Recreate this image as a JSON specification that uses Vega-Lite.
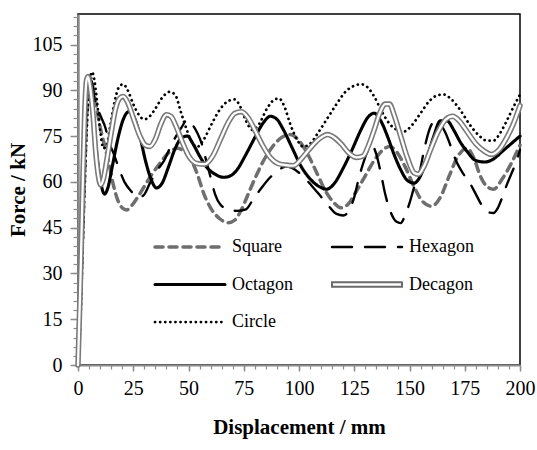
{
  "$schema": "https://vega.github.io/schema/vega-lite/v6.json",
  "width": 442,
  "height": 351,
  "autosize": {"type": "none"},
  "padding": {"left": 78, "top": 14, "right": 17, "bottom": 85},
  "background": "white",
  "config": {"view": {"stroke": "black", "strokeWidth": 1.5}, "font": "Liberation Serif"},
  "datasets": {
    "pts": [
      {"s":"Square","d":0,"f":0},{"s":"Square","d":1,"f":18},{"s":"Square","d":2,"f":40},{"s":"Square","d":3,"f":62},{"s":"Square","d":4,"f":82},{"s":"Square","d":5,"f":92},{"s":"Square","d":5.8,"f":94},{"s":"Square","d":7,"f":90},{"s":"Square","d":8.5,"f":84},{"s":"Square","d":10,"f":78},{"s":"Square","d":12,"f":72},{"s":"Square","d":14,"f":66},{"s":"Square","d":16,"f":59},{"s":"Square","d":18,"f":54},{"s":"Square","d":20,"f":51.5},{"s":"Square","d":22,"f":50.8},{"s":"Square","d":24,"f":52},{"s":"Square","d":27,"f":55},{"s":"Square","d":30,"f":58.5},{"s":"Square","d":33,"f":62},{"s":"Square","d":37,"f":66},{"s":"Square","d":41,"f":69.5},{"s":"Square","d":45,"f":71},{"s":"Square","d":48,"f":70},{"s":"Square","d":51,"f":67.5},{"s":"Square","d":54,"f":62.5},{"s":"Square","d":57,"f":56},{"s":"Square","d":60,"f":51.5},{"s":"Square","d":64,"f":48},{"s":"Square","d":68,"f":46.6},{"s":"Square","d":71,"f":47.5},{"s":"Square","d":74,"f":51},{"s":"Square","d":77,"f":56},{"s":"Square","d":80,"f":61},{"s":"Square","d":84,"f":67},{"s":"Square","d":88,"f":71.5},{"s":"Square","d":92,"f":74.5},{"s":"Square","d":96,"f":75.5},{"s":"Square","d":100,"f":73.5},{"s":"Square","d":104,"f":69},{"s":"Square","d":108,"f":63},{"s":"Square","d":112,"f":57},{"s":"Square","d":116,"f":53},{"s":"Square","d":119,"f":51.5},{"s":"Square","d":122,"f":52.5},{"s":"Square","d":126,"f":57},{"s":"Square","d":130,"f":62},{"s":"Square","d":134,"f":67},{"s":"Square","d":138,"f":70.5},{"s":"Square","d":141,"f":71.6},{"s":"Square","d":144,"f":70},{"s":"Square","d":148,"f":65},{"s":"Square","d":152,"f":58.5},{"s":"Square","d":156,"f":53.5},{"s":"Square","d":160,"f":52},{"s":"Square","d":164,"f":55},{"s":"Square","d":168,"f":62},{"s":"Square","d":172,"f":68.5},{"s":"Square","d":176,"f":71},{"s":"Square","d":179,"f":68},{"s":"Square","d":182,"f":62},{"s":"Square","d":185,"f":58.5},{"s":"Square","d":188,"f":57.6},{"s":"Square","d":192,"f":61},{"s":"Square","d":196,"f":66},{"s":"Square","d":200,"f":72},
      {"s":"Hexagon","d":0,"f":0},{"s":"Hexagon","d":1,"f":20},{"s":"Hexagon","d":2,"f":45},{"s":"Hexagon","d":3,"f":70},{"s":"Hexagon","d":4,"f":87},{"s":"Hexagon","d":5.2,"f":95},{"s":"Hexagon","d":6.5,"f":92},{"s":"Hexagon","d":7.5,"f":87},{"s":"Hexagon","d":10,"f":82},{"s":"Hexagon","d":12.5,"f":77.5},{"s":"Hexagon","d":14,"f":73},{"s":"Hexagon","d":16,"f":69.5},{"s":"Hexagon","d":18,"f":65.5},{"s":"Hexagon","d":21,"f":60},{"s":"Hexagon","d":24,"f":57},{"s":"Hexagon","d":27,"f":55},{"s":"Hexagon","d":29.5,"f":55.5},{"s":"Hexagon","d":32.5,"f":59.5},{"s":"Hexagon","d":36,"f":64},{"s":"Hexagon","d":39,"f":67},{"s":"Hexagon","d":41.5,"f":71},{"s":"Hexagon","d":44,"f":74.5},{"s":"Hexagon","d":47,"f":78},{"s":"Hexagon","d":49.5,"f":80.5},{"s":"Hexagon","d":52,"f":78.5},{"s":"Hexagon","d":54,"f":76},{"s":"Hexagon","d":56,"f":72.5},{"s":"Hexagon","d":58,"f":67},{"s":"Hexagon","d":60,"f":61.5},{"s":"Hexagon","d":62,"f":56},{"s":"Hexagon","d":64.5,"f":52.5},{"s":"Hexagon","d":68,"f":51},{"s":"Hexagon","d":72,"f":50.5},{"s":"Hexagon","d":76,"f":51},{"s":"Hexagon","d":79,"f":54},{"s":"Hexagon","d":83,"f":58},{"s":"Hexagon","d":87,"f":61.5},{"s":"Hexagon","d":91,"f":64},{"s":"Hexagon","d":94,"f":65},{"s":"Hexagon","d":97,"f":64.5},{"s":"Hexagon","d":100,"f":63},{"s":"Hexagon","d":103,"f":61},{"s":"Hexagon","d":106,"f":58.5},{"s":"Hexagon","d":109,"f":56},{"s":"Hexagon","d":113,"f":52.5},{"s":"Hexagon","d":117,"f":49.5},{"s":"Hexagon","d":120,"f":49},{"s":"Hexagon","d":122.5,"f":50.5},{"s":"Hexagon","d":125,"f":55},{"s":"Hexagon","d":127,"f":61},{"s":"Hexagon","d":129,"f":66},{"s":"Hexagon","d":131,"f":70},{"s":"Hexagon","d":133,"f":72},{"s":"Hexagon","d":135,"f":69},{"s":"Hexagon","d":137,"f":63},{"s":"Hexagon","d":139,"f":56},{"s":"Hexagon","d":141.5,"f":50},{"s":"Hexagon","d":144,"f":47},{"s":"Hexagon","d":146,"f":46.5},{"s":"Hexagon","d":148,"f":49},{"s":"Hexagon","d":150,"f":53},{"s":"Hexagon","d":152,"f":58},{"s":"Hexagon","d":154.5,"f":63},{"s":"Hexagon","d":156.5,"f":70},{"s":"Hexagon","d":158.5,"f":76},{"s":"Hexagon","d":161,"f":79.5},{"s":"Hexagon","d":163.5,"f":79},{"s":"Hexagon","d":166,"f":76.5},{"s":"Hexagon","d":168.5,"f":72},{"s":"Hexagon","d":171,"f":67},{"s":"Hexagon","d":174,"f":63},{"s":"Hexagon","d":177,"f":60},{"s":"Hexagon","d":180,"f":56},{"s":"Hexagon","d":183,"f":52},{"s":"Hexagon","d":186,"f":50},{"s":"Hexagon","d":188,"f":49.8},{"s":"Hexagon","d":190,"f":51.5},{"s":"Hexagon","d":192,"f":55},{"s":"Hexagon","d":194,"f":59},{"s":"Hexagon","d":196,"f":62.5},{"s":"Hexagon","d":198,"f":66},{"s":"Hexagon","d":200,"f":70.5},
      {"s":"Octagon","d":0,"f":0},{"s":"Octagon","d":1,"f":25},{"s":"Octagon","d":2,"f":55},{"s":"Octagon","d":3,"f":80},{"s":"Octagon","d":4,"f":92},{"s":"Octagon","d":4.8,"f":93},{"s":"Octagon","d":6,"f":87},{"s":"Octagon","d":7.5,"f":76},{"s":"Octagon","d":9,"f":66},{"s":"Octagon","d":10.5,"f":59},{"s":"Octagon","d":12,"f":56},{"s":"Octagon","d":13.5,"f":58},{"s":"Octagon","d":15.5,"f":65},{"s":"Octagon","d":18,"f":74},{"s":"Octagon","d":20.5,"f":80.5},{"s":"Octagon","d":23,"f":83},{"s":"Octagon","d":25.5,"f":81},{"s":"Octagon","d":28,"f":75},{"s":"Octagon","d":30.5,"f":67},{"s":"Octagon","d":33,"f":61},{"s":"Octagon","d":35.5,"f":58},{"s":"Octagon","d":38,"f":59.5},{"s":"Octagon","d":41,"f":65},{"s":"Octagon","d":44,"f":71},{"s":"Octagon","d":47,"f":74.5},{"s":"Octagon","d":49.5,"f":75},{"s":"Octagon","d":52,"f":72.5},{"s":"Octagon","d":55,"f":68.5},{"s":"Octagon","d":58,"f":65},{"s":"Octagon","d":62,"f":62.5},{"s":"Octagon","d":66,"f":61.5},{"s":"Octagon","d":69,"f":62},{"s":"Octagon","d":72,"f":64},{"s":"Octagon","d":76,"f":69},{"s":"Octagon","d":80,"f":74.5},{"s":"Octagon","d":84,"f":79.5},{"s":"Octagon","d":87,"f":81.5},{"s":"Octagon","d":90,"f":80.5},{"s":"Octagon","d":93,"f":77},{"s":"Octagon","d":97,"f":71},{"s":"Octagon","d":101,"f":65},{"s":"Octagon","d":105,"f":61},{"s":"Octagon","d":109,"f":58.5},{"s":"Octagon","d":112.5,"f":57.6},{"s":"Octagon","d":116,"f":59.5},{"s":"Octagon","d":120,"f":64.5},{"s":"Octagon","d":124,"f":70.5},{"s":"Octagon","d":128,"f":77},{"s":"Octagon","d":131,"f":81},{"s":"Octagon","d":134,"f":82.5},{"s":"Octagon","d":137,"f":80},{"s":"Octagon","d":140,"f":75},{"s":"Octagon","d":143,"f":69},{"s":"Octagon","d":146,"f":64},{"s":"Octagon","d":149,"f":60.5},{"s":"Octagon","d":152,"f":59.6},{"s":"Octagon","d":155,"f":62},{"s":"Octagon","d":158,"f":68},{"s":"Octagon","d":161,"f":75},{"s":"Octagon","d":164,"f":80},{"s":"Octagon","d":167,"f":80},{"s":"Octagon","d":170,"f":77},{"s":"Octagon","d":173,"f":73},{"s":"Octagon","d":176,"f":70},{"s":"Octagon","d":180,"f":67},{"s":"Octagon","d":184,"f":66.5},{"s":"Octagon","d":188,"f":67.5},{"s":"Octagon","d":192,"f":70},{"s":"Octagon","d":196,"f":72.5},{"s":"Octagon","d":200,"f":75},
      {"s":"Decagon","d":0,"f":0},{"s":"Decagon","d":1,"f":25},{"s":"Decagon","d":2,"f":55},{"s":"Decagon","d":3,"f":82},{"s":"Decagon","d":3.8,"f":93},{"s":"Decagon","d":4.5,"f":94.5},{"s":"Decagon","d":5.5,"f":91},{"s":"Decagon","d":6.8,"f":82},{"s":"Decagon","d":8,"f":70},{"s":"Decagon","d":9.2,"f":62},{"s":"Decagon","d":10.3,"f":59},{"s":"Decagon","d":11.5,"f":61},{"s":"Decagon","d":13,"f":67},{"s":"Decagon","d":15,"f":76},{"s":"Decagon","d":17,"f":84},{"s":"Decagon","d":19,"f":87.5},{"s":"Decagon","d":20.5,"f":88},{"s":"Decagon","d":22.5,"f":86},{"s":"Decagon","d":25,"f":81},{"s":"Decagon","d":28,"f":75},{"s":"Decagon","d":30.5,"f":72},{"s":"Decagon","d":32.5,"f":71.6},{"s":"Decagon","d":35,"f":74},{"s":"Decagon","d":37.5,"f":79},{"s":"Decagon","d":40,"f":82},{"s":"Decagon","d":42,"f":81.5},{"s":"Decagon","d":44.5,"f":78},{"s":"Decagon","d":47.5,"f":72.5},{"s":"Decagon","d":50.5,"f":68},{"s":"Decagon","d":54,"f":66},{"s":"Decagon","d":57.5,"f":65.8},{"s":"Decagon","d":61,"f":68.5},{"s":"Decagon","d":64.5,"f":74},{"s":"Decagon","d":68,"f":79.5},{"s":"Decagon","d":71,"f":82.5},{"s":"Decagon","d":74,"f":83},{"s":"Decagon","d":77,"f":81},{"s":"Decagon","d":80,"f":77},{"s":"Decagon","d":83.5,"f":72},{"s":"Decagon","d":87,"f":68},{"s":"Decagon","d":90.5,"f":66},{"s":"Decagon","d":94,"f":65.5},{"s":"Decagon","d":97.5,"f":65.3},{"s":"Decagon","d":101,"f":67.5},{"s":"Decagon","d":105,"f":71},{"s":"Decagon","d":109,"f":74},{"s":"Decagon","d":113,"f":75.5},{"s":"Decagon","d":116,"f":74.5},{"s":"Decagon","d":119,"f":72.5},{"s":"Decagon","d":122.5,"f":69.5},{"s":"Decagon","d":126,"f":68},{"s":"Decagon","d":129,"f":68.5},{"s":"Decagon","d":131.5,"f":72},{"s":"Decagon","d":134,"f":77},{"s":"Decagon","d":136.5,"f":82.5},{"s":"Decagon","d":139,"f":85.5},{"s":"Decagon","d":141,"f":85.5},{"s":"Decagon","d":143,"f":82},{"s":"Decagon","d":146,"f":75},{"s":"Decagon","d":149,"f":68},{"s":"Decagon","d":152,"f":63},{"s":"Decagon","d":154,"f":62.5},{"s":"Decagon","d":156.5,"f":65},{"s":"Decagon","d":159.5,"f":70.5},{"s":"Decagon","d":163,"f":76.5},{"s":"Decagon","d":166.5,"f":80.5},{"s":"Decagon","d":169.5,"f":81.5},{"s":"Decagon","d":172.5,"f":80},{"s":"Decagon","d":176,"f":76.5},{"s":"Decagon","d":180,"f":72.5},{"s":"Decagon","d":184,"f":70},{"s":"Decagon","d":187,"f":69},{"s":"Decagon","d":190.5,"f":70.5},{"s":"Decagon","d":194,"f":74.5},{"s":"Decagon","d":197,"f":79},{"s":"Decagon","d":200,"f":85},
      {"s":"Circle","d":0,"f":0},{"s":"Circle","d":1,"f":12},{"s":"Circle","d":2,"f":35},{"s":"Circle","d":3,"f":58},{"s":"Circle","d":4,"f":78},{"s":"Circle","d":5,"f":90},{"s":"Circle","d":6.3,"f":96},{"s":"Circle","d":7.5,"f":93},{"s":"Circle","d":8.8,"f":85},{"s":"Circle","d":10,"f":77},{"s":"Circle","d":11.5,"f":71},{"s":"Circle","d":13,"f":72},{"s":"Circle","d":14.5,"f":78},{"s":"Circle","d":16.5,"f":86},{"s":"Circle","d":18.5,"f":91},{"s":"Circle","d":20.5,"f":92},{"s":"Circle","d":22.5,"f":90},{"s":"Circle","d":25,"f":85.5},{"s":"Circle","d":27.5,"f":82},{"s":"Circle","d":30,"f":80.5},{"s":"Circle","d":32.5,"f":81.5},{"s":"Circle","d":35,"f":84},{"s":"Circle","d":38,"f":87.5},{"s":"Circle","d":41.5,"f":89.5},{"s":"Circle","d":44,"f":88.5},{"s":"Circle","d":46.5,"f":83},{"s":"Circle","d":49,"f":77.5},{"s":"Circle","d":51.5,"f":73},{"s":"Circle","d":54,"f":71.5},{"s":"Circle","d":57,"f":74},{"s":"Circle","d":60.5,"f":79},{"s":"Circle","d":64,"f":83.5},{"s":"Circle","d":68,"f":86.5},{"s":"Circle","d":71,"f":87},{"s":"Circle","d":73.5,"f":84.5},{"s":"Circle","d":76,"f":80},{"s":"Circle","d":79,"f":77},{"s":"Circle","d":82,"f":79},{"s":"Circle","d":85.5,"f":84},{"s":"Circle","d":89,"f":87},{"s":"Circle","d":91,"f":87.3},{"s":"Circle","d":93.5,"f":84.5},{"s":"Circle","d":96,"f":79},{"s":"Circle","d":99,"f":74},{"s":"Circle","d":102,"f":71.5},{"s":"Circle","d":105,"f":72.5},{"s":"Circle","d":109,"f":76.5},{"s":"Circle","d":113,"f":81},{"s":"Circle","d":117,"f":85.5},{"s":"Circle","d":121,"f":89.5},{"s":"Circle","d":125,"f":91.5},{"s":"Circle","d":128,"f":92},{"s":"Circle","d":131,"f":91},{"s":"Circle","d":134,"f":88},{"s":"Circle","d":137.5,"f":83},{"s":"Circle","d":141,"f":79},{"s":"Circle","d":144.5,"f":77},{"s":"Circle","d":147.5,"f":76.5},{"s":"Circle","d":151,"f":78.5},{"s":"Circle","d":155,"f":82.5},{"s":"Circle","d":159,"f":86.5},{"s":"Circle","d":162.5,"f":88.3},{"s":"Circle","d":165.5,"f":88.6},{"s":"Circle","d":169,"f":87},{"s":"Circle","d":173,"f":83.5},{"s":"Circle","d":177,"f":79},{"s":"Circle","d":181,"f":75.5},{"s":"Circle","d":185,"f":73.5},{"s":"Circle","d":188,"f":73.5},{"s":"Circle","d":191,"f":76},{"s":"Circle","d":194,"f":80},{"s":"Circle","d":197,"f":84.5},{"s":"Circle","d":200,"f":88.6}
    ]
  },
  "data": {"name": "pts"},
  "layer": [
    {
      "mark": {"type": "line", "interpolate": "monotone", "strokeCap": "round", "strokeJoin": "round"},
      "encoding": {
        "x": {
          "field": "d", "type": "quantitative",
          "scale": {"domain": [0, 200], "nice": false, "zero": false},
          "axis": {
            "values": [0, 25, 50, 75, 100, 125, 150, 175, 200],
            "grid": false, "domainColor": "#8c8c8c", "domainWidth": 2,
            "tickColor": "#8c8c8c", "tickWidth": 1.5, "tickSize": 6,
            "labelFont": "Liberation Serif", "labelFontSize": 20, "labelColor": "black", "labelPadding": 7,
            "labelFlush": false, "labelOverlap": false,
            "title": "Displacement / mm", "titleFont": "Liberation Serif", "titleFontSize": 21,
            "titleFontWeight": "bold", "titleColor": "black", "titlePadding": 18
          }
        },
        "y": {
          "field": "f", "type": "quantitative",
          "scale": {"domain": [0, 115], "nice": false, "zero": false},
          "axis": {
            "values": [0, 15, 30, 45, 60, 75, 90, 105],
            "grid": false, "domainColor": "#8c8c8c", "domainWidth": 2.5,
            "tickColor": "#8c8c8c", "tickWidth": 1.5, "tickSize": 8,
            "labelFont": "Liberation Serif", "labelFontSize": 20, "labelColor": "black", "labelPadding": 8,
            "labelFlush": false, "labelOverlap": false,
            "title": "Force / kN", "titleFont": "Liberation Serif", "titleFontSize": 21,
            "titleFontWeight": "bold", "titleColor": "black", "titlePadding": 4
          }
        },
        "color": {
          "field": "s", "type": "nominal",
          "scale": {"domain": ["Square", "Octagon", "Circle", "Hexagon", "Decagon"], "range": ["#6e6e6e", "#000000", "#000000", "#000000", "#6a6a6a"]},
          "legend": {
            "title": null, "orient": "none", "legendX": 75, "legendY": 223, "columns": 2,
            "columnPadding": 37, "rowPadding": 17.5, "clipHeight": 20, "symbolType": "stroke", "symbolSize": 4900,
            "labelFont": "Liberation Serif", "labelFontSize": 18, "labelColor": "black", "labelOffset": 5, "padding": 0,
            "encoding": {"symbols": {
              "strokeCap": {"value": "round"},
              "shape": {"value": {"expr": "datum.value === 'Decagon' ? 'M-1,-0.065L1,-0.065L1,0.065L-1,0.065Z' : 'stroke'"}},
              "fill": {"value": {"expr": "datum.value === 'Decagon' ? 'white' : 'transparent'"}},
              "strokeWidth": {"value": {"expr": "datum.value === 'Decagon' ? 1.6 : datum.value === 'Octagon' ? 2.5 : 3.5"}}
            }}
          }
        },
        "strokeDash": {
          "field": "s", "type": "nominal",
          "scale": {"domain": ["Square", "Octagon", "Circle", "Hexagon", "Decagon"], "range": [[8, 6], [1, 0], [0.1, 5], [20, 13], [1, 0]]},
          "legend": {
            "title": null, "orient": "none", "legendX": 75, "legendY": 223, "columns": 2,
            "columnPadding": 37, "rowPadding": 17.5, "clipHeight": 20, "symbolType": "stroke", "symbolSize": 4900,
            "labelFont": "Liberation Serif", "labelFontSize": 18, "labelColor": "black", "labelOffset": 5, "padding": 0,
            "encoding": {"symbols": {
              "strokeCap": {"value": "round"},
              "shape": {"value": {"expr": "datum.value === 'Decagon' ? 'M-1,-0.065L1,-0.065L1,0.065L-1,0.065Z' : 'stroke'"}},
              "fill": {"value": {"expr": "datum.value === 'Decagon' ? 'white' : 'transparent'"}},
              "strokeWidth": {"value": {"expr": "datum.value === 'Decagon' ? 1.6 : datum.value === 'Octagon' ? 2.5 : 3.5"}}
            }}
          }
        },
        "strokeWidth": {
          "field": "s", "type": "nominal",
          "scale": {"domain": ["Square", "Octagon", "Circle", "Hexagon", "Decagon"], "range": [3.5, 2, 3, 3.5, 5.5]},
          "legend": null
        }
      }
    },
    {
      "transform": [{"filter": "datum.s === 'Decagon'"}],
      "mark": {"type": "line", "interpolate": "monotone", "color": "#7a7a7a", "strokeWidth": 5.5, "strokeCap": "round", "strokeJoin": "round"},
      "encoding": {
        "x": {"field": "d", "type": "quantitative", "axis": null},
        "y": {"field": "f", "type": "quantitative", "axis": null}
      }
    },
    {
      "transform": [{"filter": "datum.s === 'Decagon'"}],
      "mark": {"type": "line", "interpolate": "monotone", "color": "white", "strokeWidth": 2.3, "strokeCap": "round", "strokeJoin": "round"},
      "encoding": {
        "x": {
          "field": "d", "type": "quantitative",
          "axis": {
            "orient": "bottom", "values": [0,5,10,15,20,25,30,35,40,45,50,55,60,65,70,75,80,85,90,95,100,105,110,115,120,125,130,135,140,145,150,155,160,165,170,175,180,185,190,195,200],
            "labels": false, "domain": false, "grid": false, "tickSize": 4, "tickColor": "#8c8c8c", "tickWidth": 1.2, "title": null
          }
        },
        "y": {
          "field": "f", "type": "quantitative",
          "axis": {
            "orient": "left", "values": [0,3,6,9,12,15,18,21,24,27,30,33,36,39,42,45,48,51,54,57,60,63,66,69,72,75,78,81,84,87,90,93,96,99,102,105,108,111,114],
            "labels": false, "domain": false, "grid": false, "tickSize": 5, "tickColor": "#8c8c8c", "tickWidth": 1.2, "title": null
          }
        }
      }
    }
  ],
  "resolve": {"axis": {"x": "independent", "y": "independent"}}
}
